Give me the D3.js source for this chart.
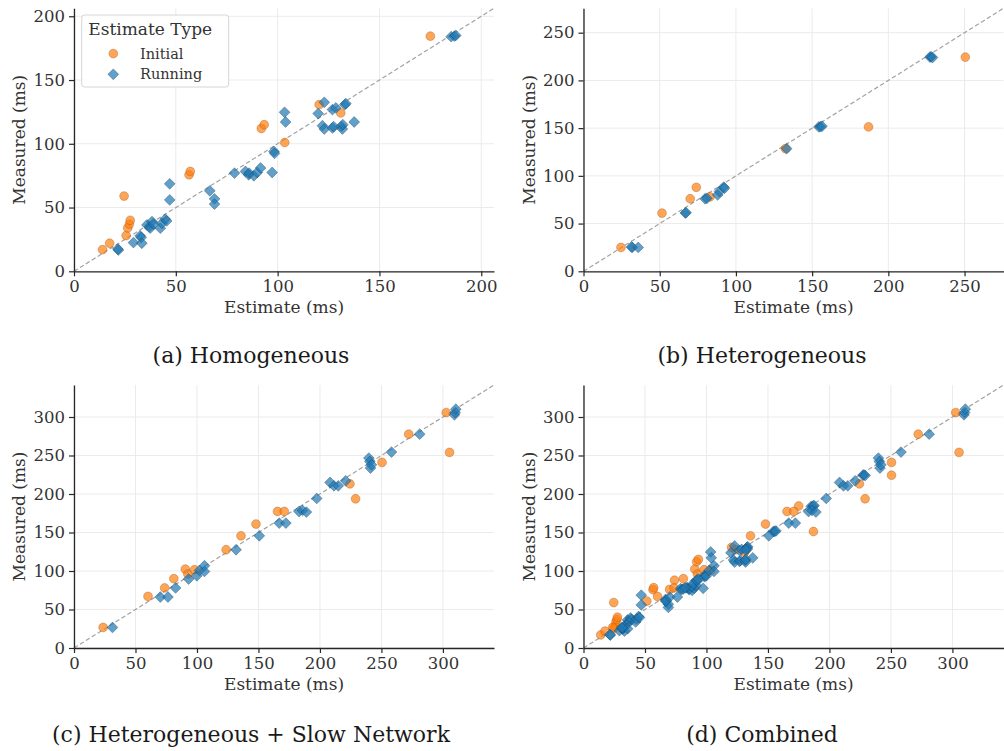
<!DOCTYPE html>
<html><head><meta charset="utf-8">
<script src="https://cdn.jsdelivr.net/npm/d3@7"></script>
<style>body{margin:0;background:#fff}</style>
</head><body>
<svg id="chart" width="1004" height="751"></svg>
<script>
// [estimate, measured] in ms
const homogeneousInitial = [[14,17],[17.5,22],[24.6,59],[25.6,28],[26.4,34],[27.2,37],[27.6,40],[56.5,75.7],[57.1,78.3],[92,112],[93.4,115],[103.5,101],[120.4,130.7],[131,124.2],[175,184.4]];
const homogeneousRunning = [[21.8,16.7],[21.5,17.5],[29.2,22.5],[32.5,27.8],[33,26.5],[33.3,22],[35.8,36.4],[37,35],[37.4,33.8],[38.3,39],[39,37],[42.4,33.8],[43.2,37.7],[44.8,40.9],[45.5,39.5],[47,68.6],[47,56],[66.7,63.1],[69,56.8],[69,52.7],[78.8,77],[84.2,78.3],[85.8,75.7],[86,77],[88.3,74.9],[90,77.5],[91.6,81],[97.3,77.5],[98.2,94],[98.5,92.5],[103.4,124.7],[103.9,117.1],[119.9,123.7],[122.9,132.5],[122,114.2],[122.9,111.6],[126.9,112.4],[127.5,113.5],[126.9,126.8],[128.6,128.1],[131.3,113.7],[131.8,111.6],[132,115],[133,130.7],[133.5,131.5],[137.6,117.1],[185.2,184],[186.8,184.4],[187.5,185]];
const heterogeneousInitial = [[24.6,25],[51.5,61],[70,76],[74,88],[83,78],[132.5,128.5],[187,151.3],[250.5,224.4]];
const heterogeneousRunning = [[32,25],[31.5,25.5],[35.9,25],[66.8,61],[67.3,61.5],[79.8,76],[81,76.5],[88,80],[89.2,83.6],[92,88.2],[92.5,87],[133.3,128.5],[154.4,151.3],[155.5,151.5],[156.5,152],[227.3,224.4],[228,224.8],[229,224]];
const slowNetInitial = [[23.7,26.7],[60.2,67],[73.7,78],[81.2,90],[90.5,102.5],[92.6,96],[98,101.6],[123.7,127.6],[135.8,145.7],[148,161],[165.5,177.3],[171,177.3],[224.4,213.2],[229,193.8],[250.5,241],[272.2,277.7],[302.7,305.8],[305.4,254]];
const slowNetRunning = [[31.3,26.7],[70.2,66.2],[76.4,66.2],[82.6,78],[93.2,89.6],[99.9,93.8],[102.1,100.7],[106.1,106.8],[106.1,99.4],[131.8,127.6],[150.7,145.7],[166.9,162.2],[172.3,162.2],[183,177.3],[185.8,178.6],[189,176.5],[197.4,194.2],[208.2,215],[211.4,210.6],[214.9,210.6],[220.9,217.1],[239.8,246.6],[240.6,242.2],[241.1,233.6],[241.9,237.9],[258.2,254.4],[281.1,277.7],[309.4,302.8],[310,305.8],[310.5,310.2]];
const combinedInitial = homogeneousInitial.concat(heterogeneousInitial, slowNetInitial);
const combinedRunning = homogeneousRunning.concat(heterogeneousRunning, slowNetRunning);

const captions = ["(a) Homogeneous", "(b) Heterogeneous", "(c) Heterogeneous + Slow Network", "(d) Combined"];
const legendTitle = "Estimate Type";
const seriesNames = ["Initial", "Running"];
const xLabel = "Estimate (ms)";
const yLabel = "Measured (ms)";
const tickStep = 50;

const colors = {Initial: "#ff7f0e", Running: "#1f77b4"};

const panels = [
  {init: homogeneousInitial, run: homogeneousRunning, left: 74, top: 8.3, cap: [251, 363], legend: true},
  {init: heterogeneousInitial, run: heterogeneousRunning, left: 583.5, top: 8.3, cap: [762, 363]},
  {init: slowNetInitial, run: slowNetRunning, left: 74, top: 385, cap: [251, 742]},
  {init: combinedInitial, run: combinedRunning, left: 583.5, top: 385, cap: [762, 742]}
];
const W = 420, H = 263;
const svg = d3.select("#chart");
const font = "'DejaVu Serif', serif";
const ink = "#262626";
const alpha = 0.7;

function diamond(s) { return `M0,${-s}L${s},0L0,${s}L${-s},0Z`; }

panels.forEach((p, i) => {
  const all = p.init.concat(p.run);
  const mx = d3.max(all, d => Math.max(d[0], d[1])) * 1.1;
  const x = d3.scaleLinear().domain([0, mx]).range([0, W]);
  const y = d3.scaleLinear().domain([0, mx]).range([H, 0]);
  const ticks = d3.range(0, mx, tickStep);
  const g = svg.append("g").attr("transform", `translate(${p.left},${p.top})`);

  // grid
  g.append("g").selectAll("line").data(ticks).join("line")
    .attr("x1", d => x(d)).attr("x2", d => x(d)).attr("y1", 0).attr("y2", H)
    .attr("stroke", "#ebebeb").attr("stroke-width", 1);
  g.append("g").selectAll("line").data(ticks).join("line")
    .attr("y1", d => y(d)).attr("y2", d => y(d)).attr("x1", 0).attr("x2", W)
    .attr("stroke", "#ebebeb").attr("stroke-width", 1);

  // diagonal
  g.append("line").attr("x1", x(0)).attr("y1", y(0)).attr("x2", x(mx)).attr("y2", y(mx))
    .attr("stroke", "#999").attr("stroke-width", 1.2).attr("stroke-dasharray", "4.5,2.5").attr("opacity", 0.9);

  // points
  g.append("g").selectAll("circle").data(p.init).join("circle")
    .attr("cx", d => x(d[0])).attr("cy", d => y(d[1])).attr("r", 4.4)
    .attr("fill", colors.Initial).attr("fill-opacity", alpha)
    .attr("stroke", "#a0521a").attr("stroke-opacity", 0.6).attr("stroke-width", 0.6);
  g.append("g").selectAll("path").data(p.run).join("path")
    .attr("d", diamond(5.4))
    .attr("transform", d => `translate(${x(d[0])},${y(d[1])})`)
    .attr("fill", colors.Running).attr("fill-opacity", alpha)
    .attr("stroke", "#0f3a5a").attr("stroke-opacity", 0.6).attr("stroke-width", 0.6);

  // axes
  const xa = g.append("g").attr("transform", `translate(0,${H})`)
    .call(d3.axisBottom(x).tickValues(ticks).tickSize(5).tickPadding(4).tickSizeOuter(0));
  const ya = g.append("g")
    .call(d3.axisLeft(y).tickValues(ticks).tickSize(5).tickPadding(4).tickSizeOuter(0));
  [xa, ya].forEach(a => {
    a.select(".domain").attr("stroke", ink).attr("stroke-width", 1.3);
    a.selectAll(".tick line").attr("stroke", ink).attr("stroke-width", 1.2);
    a.selectAll(".tick text").attr("fill", "#333").style("font-family", font).style("font-size", "16.5px");
  });

  g.append("text").attr("x", W / 2).attr("y", H + 42).attr("text-anchor", "middle")
    .style("font-family", font).style("font-size", "17px").attr("fill", "#333").text(xLabel);
  g.append("text").attr("transform", `translate(${-49},${H / 2}) rotate(-90)`).attr("text-anchor", "middle")
    .style("font-family", font).style("font-size", "17px").attr("fill", "#333").text(yLabel);

  svg.append("text").attr("x", p.cap[0]).attr("y", p.cap[1]).attr("text-anchor", "middle")
    .style("font-family", font).style("font-size", "22px").attr("fill", "#1a1a1a").text(captions[i]);

  if (p.legend) {
    const lg = g.append("g").attr("transform", "translate(7.7,6.7)");
    lg.append("rect").attr("width", 147).attr("height", 72).attr("rx", 3)
      .attr("fill", "#fff").attr("fill-opacity", 0.85).attr("stroke", "#d6d6d6");
    lg.append("text").attr("x", 68.5).attr("y", 20).attr("text-anchor", "middle")
      .style("font-family", font).style("font-size", "17px").attr("fill", "#333").text(legendTitle);
    seriesNames.forEach((s, k) => {
      const cy = 38.6 + k * 20.7;
      if (s === "Initial") {
        lg.append("circle").attr("cx", 31.6).attr("cy", cy).attr("r", 4.4)
          .attr("fill", colors.Initial).attr("fill-opacity", alpha)
          .attr("stroke", "#a0521a").attr("stroke-opacity", 0.6).attr("stroke-width", 0.6);
      } else {
        lg.append("path").attr("d", diamond(5.4)).attr("transform", `translate(31.6,${cy})`)
          .attr("fill", colors.Running).attr("fill-opacity", alpha)
          .attr("stroke", "#0f3a5a").attr("stroke-opacity", 0.6).attr("stroke-width", 0.6);
      }
      lg.append("text").attr("x", 58.3).attr("y", cy + 5).style("font-family", font)
        .style("font-size", "14.5px").attr("fill", "#333").text(s);
    });
  }
});
</script>
</body></html>
